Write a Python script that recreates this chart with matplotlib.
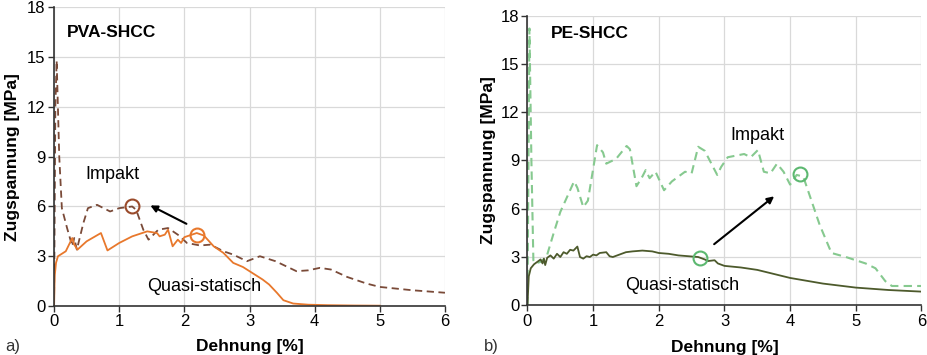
import matplotlib
matplotlib.use("Agg")
import matplotlib.pyplot as plt

plt.rcParams['font.family'] = ['Liberation Sans', 'DejaVu Sans']

# PVA-SHCC, quasi-static (solid)
pva_qs_x = [0, 0.01, 0.03, 0.06, 0.1, 0.18, 0.28, 0.31, 0.36, 0.5, 0.72, 0.82, 1.0, 1.2, 1.43, 1.58,
            1.62, 1.7, 1.75, 1.82, 1.9, 1.95, 2.0, 2.19, 2.3, 2.45, 2.6, 2.75, 2.9, 3.06, 3.2, 3.3,
            3.42, 3.52, 3.67, 3.9, 4.2, 4.6, 5.0]
pva_qs_y = [0, 1.8, 2.6, 3.0, 3.1, 3.3, 4.1, 3.7, 3.4, 3.9, 4.4, 3.35, 3.8, 4.2, 4.5, 4.4,
            4.2, 4.3, 4.6, 3.6, 4.0, 3.8, 4.15, 4.4, 4.25, 3.6, 3.2, 2.6, 2.35, 1.95, 1.6, 1.3,
            0.8, 0.35, 0.15, 0.08, 0.05, 0.03, 0.02]

# PVA-SHCC, impact (dashed)
pva_imp_x = [0, 0.02, 0.04, 0.08, 0.12, 0.2, 0.28, 0.31, 0.35, 0.45, 0.52, 0.66, 0.76, 0.86, 1.0,
             1.2, 1.26, 1.37, 1.45, 1.6, 1.75, 1.9, 2.04, 2.24, 2.4, 2.6, 2.75, 2.96, 3.16, 3.4,
             3.72, 3.9, 4.08, 4.25, 4.5, 4.8, 5.0, 5.5, 6.0]
pva_imp_y = [0, 12.0, 14.8, 9.0, 5.9, 4.7, 3.6, 4.1, 3.4, 5.0, 5.9, 6.1, 5.9, 5.7, 5.9,
             6.0, 5.8, 4.6, 4.0, 4.6, 4.7, 4.3, 3.8, 3.65, 3.7, 3.3, 3.1, 2.7, 3.0, 2.7,
             2.1, 2.15, 2.3, 2.2, 1.75, 1.35, 1.15, 0.95, 0.8]

# PE-SHCC, quasi-static (solid)
pe_qs_x = [0, 0.02, 0.05, 0.1, 0.15, 0.2, 0.23, 0.25, 0.27, 0.3, 0.35, 0.4, 0.45, 0.5, 0.55, 0.6,
           0.65, 0.7, 0.76, 0.8, 0.85, 0.9, 0.95, 1.0, 1.05, 1.1, 1.2, 1.25, 1.3, 1.4, 1.5, 1.6,
           1.75, 1.9, 2.0, 2.15, 2.3, 2.45, 2.6, 2.7, 2.75, 2.85, 2.9, 3.0, 3.25, 3.5, 3.75, 4.0,
           4.5, 5.0, 5.5, 6.0]
pe_qs_y = [0, 1.8, 2.3, 2.55, 2.7, 2.85, 2.6, 2.9, 2.5, 2.95, 3.1, 2.9, 3.2, 3.0, 3.3, 3.2,
           3.45, 3.4, 3.65, 3.0, 2.9, 3.05, 3.0, 3.15, 3.1, 3.25, 3.3, 3.05, 3.0, 3.15, 3.3, 3.35,
           3.4, 3.35, 3.25, 3.2, 3.1, 3.05, 3.0, 2.85, 2.75, 2.8, 2.6, 2.45, 2.35, 2.2, 1.95, 1.7,
           1.35, 1.1, 0.95, 0.85]

# PE-SHCC, impact (dashed)
pe_imp_x = [0, 0.03, 0.06, 0.09, 0.12, 0.2, 0.29, 0.4, 0.5, 0.6, 0.71, 0.76, 0.85, 0.92, 1.06,
            1.15, 1.2, 1.35, 1.51, 1.56, 1.66, 1.75, 1.8, 1.86, 1.95, 2.08, 2.2, 2.4, 2.5, 2.6,
            2.7, 2.89, 2.95, 3.05, 3.3, 3.4, 3.51, 3.6, 3.7, 3.8, 3.9, 4.0, 4.1, 4.2, 4.3, 4.45,
            4.63, 4.85, 5.0, 5.15, 5.3, 5.45, 5.55, 6.0]
pe_imp_y = [0, 17.2, 9.0, 2.8, 2.6, 2.7, 3.0, 4.5, 5.8, 6.7, 7.7, 7.3, 6.1, 6.5, 9.95,
            9.5, 8.8, 9.1, 9.9, 9.7, 7.4, 8.0, 8.4, 7.9, 8.3, 7.15, 7.7, 8.3, 8.2, 9.85,
            9.6, 8.1, 8.6, 9.2, 9.4, 9.2, 9.65, 8.3, 8.2, 8.8, 8.3, 7.5, 8.1, 8.0, 6.8, 5.0,
            3.25, 3.0, 2.8, 2.6, 2.3, 1.5, 1.2, 1.2]

x_ticks = [0, 1, 2, 3, 4, 5, 6]
y_ticks = [0, 3, 6, 9, 12, 15, 18]

fig = plt.figure(figsize=(9.27, 3.55), dpi=100)
ax1 = fig.add_axes([0.0583, 0.138, 0.4217, 0.841])
ax2 = fig.add_axes([0.569, 0.140, 0.425, 0.816])

for ax in (ax1, ax2):
    ax.set_xlim(0, 6)
    ax.set_ylim(0, 18)
    ax.set_xticks(x_ticks)
    ax.set_yticks(y_ticks)
    ax.grid(True, color='#d9d9d9', linewidth=0.9)
    ax.set_axisbelow(True)
    for s in ('top', 'right'):
        ax.spines[s].set_visible(False)
    for s in ('left', 'bottom'):
        ax.spines[s].set_color('#333333')
        ax.spines[s].set_linewidth(1.2)
    ax.tick_params(labelsize=12, length=4, width=1, color='#333333', pad=2)

ax1.set_xlabel('Dehnung [%]', fontsize=12.5, fontweight='bold', labelpad=7)
ax1.set_ylabel('Zugspannung [MPa]', fontsize=12.5, fontweight='bold', labelpad=5)
ax2.set_xlabel('Dehnung [%]', fontsize=12.5, fontweight='bold', labelpad=8)
ax2.set_ylabel('Zugspannung [MPa]', fontsize=12.5, fontweight='bold', labelpad=3.5)

# panel a
ax1.plot(pva_imp_x, pva_imp_y, color='#7a4a38', linestyle=(0, (4, 2.5)), linewidth=1.3)
ax1.plot(pva_qs_x, pva_qs_y, color='#e8782c', linewidth=1.3)
ax1.plot(1.2, 6.0, 'o', ms=10, mfc='none', mec='#9a4a2a', mew=1.5)
ax1.plot(2.2, 4.3, 'o', ms=10, mfc='none', mec='#e8782c', mew=1.5)
ax1.annotate('', xy=(1.44, 6.14), xytext=(2.07, 4.88),
             arrowprops=dict(arrowstyle='-|>', color='black', lw=1.5, mutation_scale=10))
ax1.text(0.2, 16.5, 'PVA-SHCC', fontsize=12.5, fontweight='bold', va='center')
ax1.text(0.89, 7.9, 'Impakt', fontsize=13, ha='center', va='center')
ax1.text(2.31, 1.16, 'Quasi-statisch', fontsize=13, ha='center', va='center')

# panel b
ax2.plot(pe_imp_x, pe_imp_y, color='#86c98f', linestyle=(0, (4, 2.5)), linewidth=1.5)
ax2.plot(pe_qs_x, pe_qs_y, color='#4d5a2c', linewidth=1.3)
ax2.plot(2.63, 2.91, 'o', ms=10, mfc='none', mec='#5cb870', mew=1.5)
ax2.plot(4.15, 8.18, 'o', ms=10, mfc='none', mec='#5cb870', mew=1.5)
ax2.annotate('', xy=(3.79, 6.88), xytext=(2.81, 3.69),
             arrowprops=dict(arrowstyle='-|>', color='black', lw=1.5, mutation_scale=10))
ax2.text(0.35, 16.9, 'PE-SHCC', fontsize=12.5, fontweight='bold', va='center')
ax2.text(3.5, 10.55, 'Impakt', fontsize=13, ha='center', va='center')
ax2.text(2.35, 1.2, 'Quasi-statisch', fontsize=13, ha='center', va='center')

fig.text(5 / 927, 1 - 346 / 355, 'a)', fontsize=12, va='center', color='#333333')
fig.text(484 / 927, 1 - 347 / 355, 'b)', fontsize=12, va='center', color='#333333')

fig.savefig('out.png', dpi=100)
plt.close(fig)
